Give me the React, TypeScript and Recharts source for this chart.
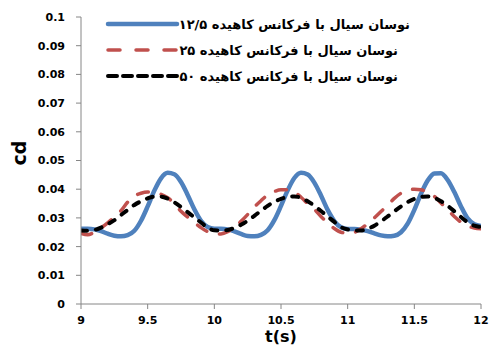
import React from "react";
import { LineChart, Line, XAxis, YAxis } from "recharts";

// time stamps (s)
const times = [
  9.0, 9.05, 9.1, 9.15, 9.2, 9.25, 9.3, 9.35, 9.4, 9.45, 9.5, 9.55, 9.6, 9.65, 9.7, 9.75, 9.8, 9.85, 9.9, 9.95,
  10.0, 10.05, 10.1, 10.15, 10.2, 10.25, 10.3, 10.35, 10.4, 10.45, 10.5, 10.55, 10.6, 10.65, 10.7, 10.75, 10.8, 10.85, 10.9, 10.95,
  11.0, 11.05, 11.1, 11.15, 11.2, 11.25, 11.3, 11.35, 11.4, 11.45, 11.5, 11.55, 11.6, 11.65, 11.7, 11.75, 11.8, 11.85, 11.9, 11.95,
  12.0,
];

// drag coefficient, reduced frequency 12.5
const cd125 = [
  0.0262, 0.0262, 0.026, 0.0254, 0.0245, 0.0238, 0.0236, 0.024, 0.0255, 0.029, 0.034, 0.0395, 0.0438, 0.0457, 0.0452, 0.0425, 0.038, 0.033, 0.029, 0.0268,
  0.0262, 0.0262, 0.026, 0.0253, 0.0244, 0.0237, 0.0236, 0.0241, 0.0257, 0.0292, 0.0342, 0.0396, 0.0439, 0.0457, 0.0451, 0.0423, 0.0378, 0.0328, 0.0289, 0.0267,
  0.0261, 0.0261, 0.0259, 0.0254, 0.0246, 0.0239, 0.0236, 0.0238, 0.025, 0.028, 0.0328, 0.0384, 0.043, 0.0455, 0.0456, 0.0432, 0.039, 0.034, 0.0298, 0.0278,
  0.0272,
];

// drag coefficient, reduced frequency 25
const cd25 = [
  0.0246, 0.0241, 0.025, 0.0265, 0.0283, 0.0303, 0.0325, 0.0355, 0.0376, 0.0386, 0.039, 0.0388, 0.0382, 0.037, 0.035, 0.0323, 0.0303, 0.0284, 0.0266, 0.0252,
  0.0246, 0.0244, 0.0252, 0.0268, 0.0288, 0.0312, 0.0338, 0.036, 0.038, 0.0392, 0.0398, 0.0398, 0.039, 0.0372, 0.035, 0.033, 0.0305, 0.0283, 0.0263, 0.025,
  0.0247, 0.025, 0.0262, 0.028, 0.03, 0.0322, 0.0345, 0.0368, 0.0386, 0.0396, 0.04, 0.0398, 0.039, 0.0375, 0.0352, 0.0328, 0.0305, 0.0285, 0.0272, 0.0265,
  0.0262,
];

// drag coefficient, reduced frequency 50
const cd50 = [
  0.0256, 0.0255, 0.0258, 0.0266, 0.0278, 0.0292, 0.031, 0.0328, 0.0345, 0.0358, 0.0368, 0.0374, 0.0374, 0.0367, 0.0354, 0.0338, 0.032, 0.0302, 0.0284, 0.0266,
  0.0257, 0.0256, 0.0258, 0.0265, 0.0276, 0.029, 0.0307, 0.0325, 0.0342, 0.0356, 0.0366, 0.0373, 0.0375, 0.037, 0.0358, 0.0342, 0.0324, 0.0305, 0.0286, 0.0268,
  0.026, 0.0256, 0.0256, 0.0262, 0.0273, 0.0288, 0.0305, 0.0323, 0.034, 0.0355, 0.0366, 0.0373, 0.0375, 0.037, 0.0358, 0.0342, 0.0323, 0.0303, 0.0285, 0.0273,
  0.0268,
];

const xTicks = [9, 9.5, 10, 10.5, 11, 11.5, 12];
const yTicks = [0, 0.01, 0.02, 0.03, 0.04, 0.05, 0.06, 0.07, 0.08, 0.09, 0.1];

const seriesNames = [
  "نوسان سیال با فرکانس کاهیده ۱۲/۵",
  "نوسان سیال با فرکانس کاهیده ۲۵",
  "نوسان سیال با فرکانس کاهیده ۵۰",
];

const series = [
  { key: "a", name: seriesNames[0], color: "#4F81BD", width: 4.5, dash: undefined, legendDash: undefined },
  { key: "b", name: seriesNames[1], color: "#C0504D", width: 3.5, dash: "11 13", legendDash: "12 16" },
  { key: "c", name: seriesNames[2], color: "#000000", width: 4, dash: "6 9", legendDash: "9 6" },
];

const data = times.map((t, i) => ({ t, a: cd125[i], b: cd25[i], c: cd50[i] }));

const FONT = "'DejaVu Sans', sans-serif";
const axisColor = "#868686";
const tickStyle = { fontFamily: FONT, fontWeight: 700, fontSize: 11, fill: "#000" };

// Legend drawn as an overlay in the upper part of the plot area
const LegendBox = () => (
  <svg
    width={489}
    height={100}
    style={{ position: "absolute", left: 0, top: 0, display: "block", pointerEvents: "none" }}
  >
    {series.map((s, i) => {
      const y = 24 + i * 26;
      return (
        <g key={s.key}>
          <line
            x1={108}
            x2={177}
            y1={y}
            y2={y}
            stroke={s.color}
            strokeWidth={s.width}
            strokeLinecap="round"
            strokeDasharray={s.legendDash}
          />
          <text
            x={i === 0 ? 410 : 398}
            y={y + 5}
            textAnchor="end"
            fontFamily={FONT}
            fontWeight={700}
            fontSize={13}
            fill="#000"
          >
            {s.name}
          </text>
        </g>
      );
    })}
  </svg>
);

export default function App() {
  return (
    <div style={{ position: "absolute", left: 0, top: 0, width: 489, height: 345, background: "#fff" }}>
      <LineChart
        width={489}
        height={345}
        data={data}
        margin={{ top: 17, right: 8, bottom: 0, left: 0 }}
      >
        <XAxis
          dataKey="t"
          type="number"
          domain={[9, 12]}
          ticks={xTicks}
          height={41}
          stroke={axisColor}
          tickSize={5}
          tickMargin={7}
          tick={tickStyle}
          tickLine={{ stroke: axisColor }}
          allowDataOverflow
          label={{
            content: (p: any) => {
              const vb = p.viewBox || { x: 81, width: 400 };
              return (
                <text
                  x={vb.x + vb.width / 2}
                  y={342}
                  textAnchor="middle"
                  fontFamily={FONT}
                  fontWeight={700}
                  fontSize={16}
                  fill="#000"
                >
                  t(s)
                </text>
              );
            },
          }}
        />
        <YAxis
          domain={[0, 0.1]}
          ticks={yTicks}
          width={81}
          stroke={axisColor}
          tickSize={5}
          tickMargin={11}
          tick={tickStyle}
          tickLine={{ stroke: axisColor }}
          allowDataOverflow
          label={{
            content: () => (
              <text
                x={0}
                y={0}
                transform="translate(26 153) rotate(-90)"
                textAnchor="middle"
                fontFamily={FONT}
                fontWeight={700}
                fontSize={19}
                fill="#000"
              >
                cd
              </text>
            ),
          }}
        />
        {series.map((s) => (
          <Line
            key={s.key}
            dataKey={s.key}
            name={s.name}
            type="monotone"
            stroke={s.color}
            strokeWidth={s.width}
            strokeDasharray={s.dash}
            strokeLinecap="round"
            dot={false}
            activeDot={false}
            isAnimationActive={false}
          />
        ))}
      </LineChart>
      <LegendBox />
    </div>
  );
}
